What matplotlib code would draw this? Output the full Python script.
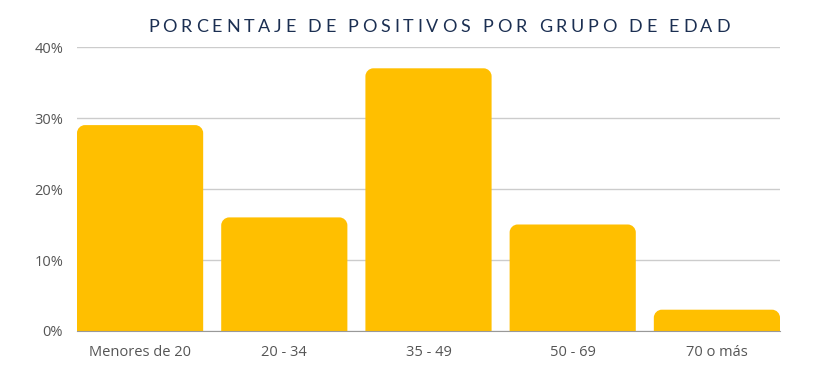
import matplotlib
matplotlib.use("Agg")
import matplotlib.pyplot as plt
from matplotlib.path import Path
from matplotlib.patches import PathPatch
from matplotlib.ticker import FuncFormatter

categories = ["Menores de 20", "20 - 34", "35 - 49", "50 - 69", "70 o más"]
values = [29, 16, 37, 15, 3]
title = "PORCENTAJE DE POSITIVOS POR GRUPO DE EDAD"

bar_color = "#FFBF00"
navy = "#1B2F52"

plt.rcParams['font.family'] = ['Open Sans', 'DejaVu Sans']

fig = plt.figure(figsize=(8.4, 3.78), dpi=100)
ax = fig.add_axes([77/840, 47/378, 703/840, 284/378])

w = 0.875
bars = ax.bar(range(len(values)), values, width=w, color=bar_color, zorder=3)
ax.set_xlim(-w/2, len(values) - 1 + w/2)
ax.set_ylim(0, 40)

# rounded top corners: replace rectangles with paths
px_x = 703 / (len(values) - 1 + w)
px_y = 284 / 40
r = 8
for b in bars:
    x0 = b.get_x(); x1 = x0 + b.get_width(); h = b.get_height()
    rx = r / px_x; ry = min(r / px_y, h)
    k = 0.55
    verts = [(x0, 0), (x0, h - ry),
             (x0, h - ry + k*ry), (x0 + rx - k*rx, h), (x0 + rx, h),
             (x1 - rx, h),
             (x1 - rx + k*rx, h), (x1, h - ry + k*ry), (x1, h - ry),
             (x1, 0), (x0, 0)]
    codes = [Path.MOVETO, Path.LINETO,
             Path.CURVE4, Path.CURVE4, Path.CURVE4,
             Path.LINETO,
             Path.CURVE4, Path.CURVE4, Path.CURVE4,
             Path.LINETO, Path.CLOSEPOLY]
    b.set_visible(False)
    ax.add_patch(PathPatch(Path(verts, codes), facecolor=bar_color, edgecolor='none', zorder=3))

ax.set_yticks([0, 10, 20, 30, 40])
ax.yaxis.set_major_formatter(FuncFormatter(lambda v, p: f"{int(v)}%"))
ax.set_xticks(range(len(values)))
ax.set_xticklabels(categories)
ax.grid(axis='y', color='#CCCCCC', linewidth=1, zorder=0)
for s in ['top', 'right', 'left']:
    ax.spines[s].set_visible(False)
ax.spines['bottom'].set_color('#999999')
ax.spines['bottom'].set_zorder(4)
ax.tick_params(axis='both', length=0, labelsize=10.5, labelcolor='#555555')
ax.tick_params(axis='x', pad=10)
ax.tick_params(axis='y', pad=10)

# letter-spaced title, drawn character by character
fig.canvas.draw()
renderer = fig.canvas.get_renderer()
fs = 13
widths = []
for ch in title:
    t = fig.text(0, 0, ch if ch != " " else "I", fontsize=fs, color=navy,
                 family=['Lato', 'DejaVu Sans'])
    bb = t.get_window_extent(renderer)
    widths.append(bb.width if ch != " " else bb.width * 0.9)
    t.remove()
target = 582
tracking = (target - sum(widths)) / (len(title) - 1)
x = 439 - target / 2
for ch, cw in zip(title, widths):
    if ch != " ":
        fig.text(x / 840, 1 - 27 / 378, ch, fontsize=fs, color=navy, va='center', ha='left',
                 family=['Lato', 'DejaVu Sans'])
    x += cw + tracking

fig.savefig("out.png", dpi=100)
